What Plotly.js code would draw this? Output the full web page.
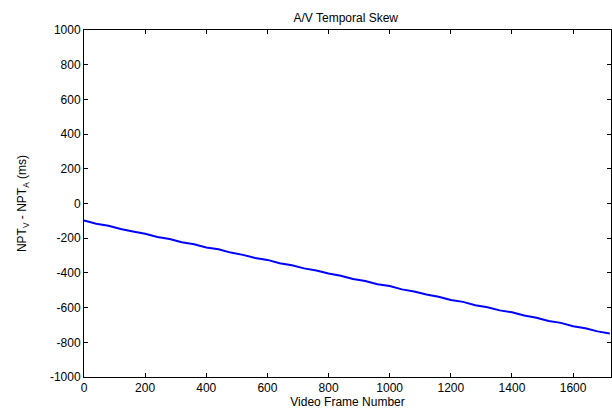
<!DOCTYPE html>
<html>
<head>
<meta charset="utf-8">
<script src="https://cdn.plot.ly/plotly-3.0.1.min.js"></script>
<style>html,body{margin:0;padding:0;background:#fff;}#chart{width:612px;height:414px;}</style>
</head>
<body>
<div id="chart"></div>
<script>
var frameNumbers = [0,40,80,120,160,200,240,280,320,360,400,440,480,520,560,600,640,680,720,760,800,840,880,920,960,1000,1040,1080,1120,1160,1200,1240,1280,1320,1360,1400,1440,1480,1520,1560,1600,1640,1680,1720];
var skewMs = [-98,-117,-128,-147,-161,-174,-193,-205,-223,-235,-253,-264,-283,-296,-314,-325,-344,-356,-374,-386,-404,-416,-435,-447,-465,-476,-495,-507,-525,-537,-556,-567,-586,-598,-616,-627,-646,-658,-677,-688,-707,-719,-737,-749];
var yTicks = [-1000,-800,-600,-400,-200,0,200,400,600,800,1000];
var xTicks = [0,200,400,600,800,1000,1200,1400,1600];

var trace = {
  x: frameNumbers, y: skewMs, type: 'scatter', mode: 'lines',
  line: {color: '#0000ff', width: 2}, hoverinfo: 'none'
};
var fam = 'Liberation Sans, Arial, sans-serif';
var font = {family: fam, size: 12, color: '#000'};
var layout = {
  width: 612, height: 414,
  margin: {l: 84, r: 1, t: 30, b: 37, pad: 0},
  paper_bgcolor: '#fff', plot_bgcolor: '#fff',
  font: font,
  showlegend: false,
  title: {text: 'A/V Temporal Skew', font: {family: fam, size: 12, color: '#000'}, x: 0.565, xanchor: 'center', y: 0.958, yanchor: 'middle'},
  xaxis: {
    range: [0, 1724], tickvals: xTicks, ticktext: xTicks.map(String),
    ticks: 'inside', ticklen: 4, tickcolor: '#000', tickwidth: 1,
    showline: true, linecolor: '#000', linewidth: 1, mirror: 'ticks',
    showgrid: false, zeroline: false,
    tickfont: {family: fam, size: 12, color: '#000'},
    title: {text: 'Video Frame Number', font: {family: fam, size: 12, color: '#000'}, standoff: 3}
  },
  yaxis: {
    range: [-1000, 1000], tickvals: yTicks, ticktext: yTicks.map(String),
    ticks: 'inside', ticklen: 4, tickcolor: '#000', tickwidth: 1,
    showline: true, linecolor: '#000', linewidth: 1, mirror: 'ticks',
    showgrid: false, zeroline: false,
    tickfont: {family: fam, size: 12, color: '#000'},
    title: {text: 'NPT<sub>V</sub> - NPT<sub>A</sub> (ms)', font: {family: fam, size: 12, color: '#000'}, standoff: 20}
  }
};
Plotly.newPlot('chart', [trace], layout, {staticPlot: true, displayModeBar: false});
</script>
</body>
</html>
